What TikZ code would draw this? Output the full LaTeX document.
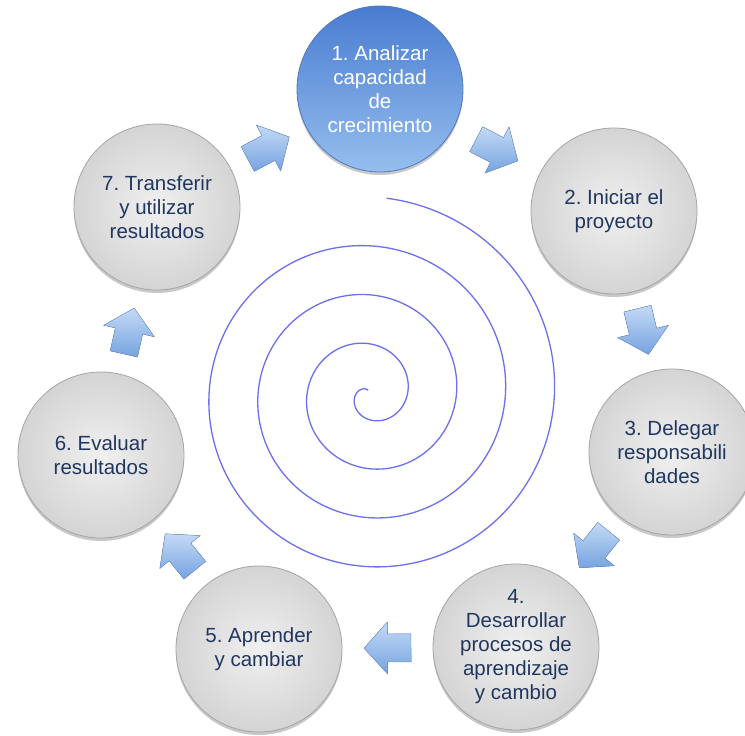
\documentclass[tikz,border=0pt]{standalone}
\usepackage{fontspec}
\setmainfont{Liberation Sans}
\usetikzlibrary{calc,shadows}
\definecolor{navytext}{RGB}{33,55,95}
\definecolor{grayin}{RGB}{240,240,240}
\definecolor{grayout}{RGB}{212,212,212}
\definecolor{grayrim}{RGB}{165,165,165}
\definecolor{bluetop}{RGB}{72,124,208}
\definecolor{bluebot}{RGB}{150,190,238}
\definecolor{bluerim}{RGB}{80,120,190}
\definecolor{arrowlight}{RGB}{196,218,246}
\definecolor{arrowdark}{RGB}{118,163,224}
\definecolor{arrowrim}{RGB}{110,150,210}
\definecolor{spiralblue}{RGB}{108,112,238}
\tikzset{
  stepcircle/.style={circle, minimum size=166pt, inner sep=0pt, align=center,
    font=\fontsize{20.5}{24}\selectfont,
    drop shadow={shadow xshift=0pt, shadow yshift=-3pt, opacity=0.3, fill=black!70}},
  graycircle/.style={stepcircle, inner color=grayin, outer color=grayout,
    draw=grayrim, line width=0.8pt, text=navytext},
  bluecircle/.style={stepcircle, top color=bluetop, bottom color=bluebot,
    draw=bluerim, line width=0.8pt, text=white},
  spiralline/.style={draw=spiralblue, line width=1.3pt},
  blockarrow/.pic={
    \fill[top color=arrowlight, bottom color=arrowdark, draw=arrowrim, line width=0.4pt]
      (-23.5,-14) -- (0,-14) -- (0,-26) -- (23.5,0) -- (0,26) -- (0,14) -- (-23.5,14) -- cycle;
  }
}
\newcommand\flowarrow[2]{%
  \path let \p1=(#1), \p2=(#2), \n1={atan2(\y2-\y1,\x2-\x1)} in
    ($(#1)!0.5!(#2)$) pic[rotate=\n1] {blockarrow};
}
\begin{document}
\frenchspacing
\begin{tikzpicture}[x=1pt,y=1pt]
\useasboundingbox (0,0) rectangle (745,-736);
\clip (0,0) rectangle (745,-736);
\fill[white] (0,0) rectangle (745,-736);
% spiral
\draw[spiralline] plot[domain=110:1525, samples=900, variable=\t]
  ({369.5 + (0.1361*(\t-81))*cos(\t)}, {-394 + (0.1361*(\t-81))*sin(\t)});
% steps
\node[bluecircle] (c1) at (380,-89) {1. Analizar\\capacidad\\de\\crecimiento};
\node[graycircle] (c2) at (614,-211) {2. Iniciar el\\proyecto};
\node[graycircle] (c3) at (672,-452) {3. Delegar\\responsabili\\dades};
\node[graycircle] (c4) at (516,-647) {4.\\Desarrollar\\procesos de\\aprendizaje\\y cambio};
\node[graycircle] (c5) at (259,-649) {5. Aprender\\y cambiar};
\node[graycircle] (c6) at (101,-455) {6. Evaluar\\resultados};
\node[graycircle] (c7) at (157,-207) {7. Transferir\\y utilizar\\resultados};
% arrows
\flowarrow{c1}{c2}
\flowarrow{c2}{c3}
\flowarrow{c3}{c4}
\flowarrow{c4}{c5}
\flowarrow{c5}{c6}
\flowarrow{c6}{c7}
\flowarrow{c7}{c1}
\end{tikzpicture}
\end{document}
